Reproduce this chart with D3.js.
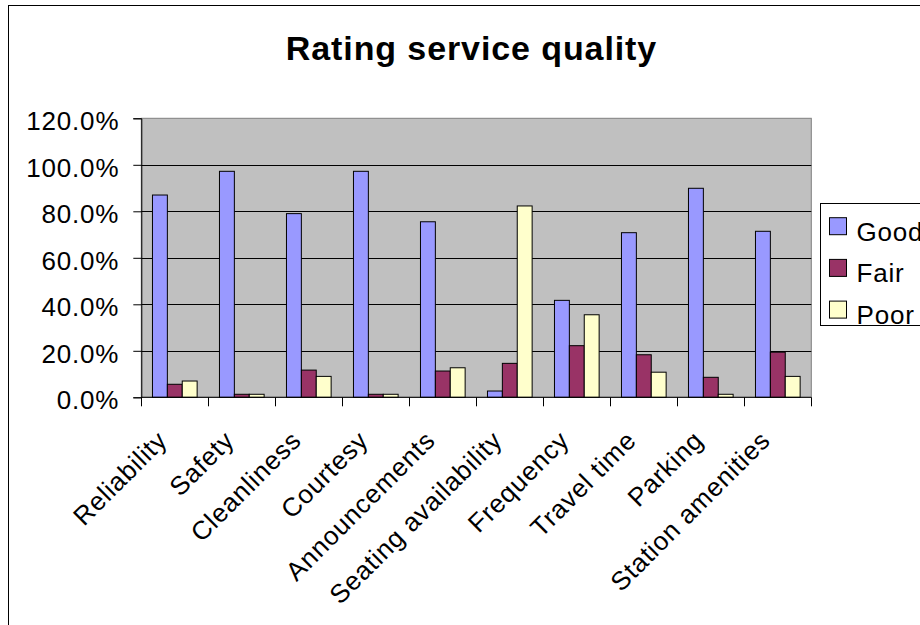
<!DOCTYPE html>
<html>
<head>
<meta charset="utf-8">
<script src="https://cdn.jsdelivr.net/npm/d3@7"></script>
<style>
  html, body { margin: 0; padding: 0; background: #fff; }
  svg { display: block; font-family: Arial, "Liberation Sans", sans-serif; }
</style>
</head>
<body>
<svg id="chart" width="920" height="625"></svg>
<script>
// Survey results: share of riders rating each service aspect
const categories = ["Reliability", "Safety", "Cleanliness", "Courtesy", "Announcements",
  "Seating availability", "Frequency", "Travel time", "Parking", "Station amenities"];
const seriesNames = ["Good", "Fair", "Poor"];
const good = [0.870, 0.972, 0.790, 0.972, 0.755, 0.027, 0.417, 0.708, 0.899, 0.714];
const fair = [0.056, 0.013, 0.117, 0.013, 0.113, 0.146, 0.222, 0.183, 0.086, 0.194];
const poor = [0.070, 0.013, 0.090, 0.013, 0.127, 0.823, 0.355, 0.108, 0.013, 0.090];
const yTicks = [0, 0.2, 0.4, 0.6, 0.8, 1.0, 1.2];
const colors = ["#9999FF", "#993366", "#FFFFCC"];
const titleText = "Rating service quality";

const seriesValues = [good, fair, poor];
const rows = categories.map((c, i) => ({
  category: c,
  values: seriesNames.map((s, k) => ({ series: s, value: seriesValues[k][i] }))
}));

const svg = d3.select("#chart");
const plot = { left: 141.3, right: 811.3, top: 118.3, bottom: 397.3 };

// Outer chart frame
svg.append("rect")
  .attr("x", 8.5).attr("y", 5.5)
  .attr("width", 940).attr("height", 640)
  .attr("fill", "#fff").attr("stroke", "#000").attr("stroke-width", 1);

// Title
svg.append("text")
  .attr("x", 471.5).attr("y", 59.5)
  .attr("text-anchor", "middle")
  .attr("font-size", 34).attr("font-weight", "bold")
  .attr("letter-spacing", 0.9)
  .text(titleText);

const x0 = d3.scaleBand()
  .domain(categories)
  .range([plot.left, plot.right])
  .paddingInner(1 / 3)
  .paddingOuter(1 / 6);
const x1 = d3.scaleBand()
  .domain(seriesNames)
  .range([0, x0.bandwidth()]);
const y = d3.scaleLinear().domain([0, 1.2]).range([plot.bottom, plot.top]);

// Plot area background
svg.append("rect")
  .attr("x", plot.left).attr("y", plot.top)
  .attr("width", plot.right - plot.left).attr("height", plot.bottom - plot.top)
  .attr("fill", "#C0C0C0").attr("stroke", "#808080").attr("stroke-width", 1);

// Horizontal gridlines
svg.append("g")
  .selectAll("line")
  .data(yTicks.filter(t => t > 0 && t < 1.2))
  .join("line")
  .attr("x1", plot.left).attr("x2", plot.right)
  .attr("y1", d => Math.round(y(d)) + 0.5).attr("y2", d => Math.round(y(d)) + 0.5)
  .attr("stroke", "#000").attr("stroke-width", 1);

// Bars
const groups = svg.append("g")
  .selectAll("g")
  .data(rows)
  .join("g")
  .attr("transform", d => `translate(${x0(d.category)},0)`);

groups.selectAll("rect")
  .data(d => d.values)
  .join("rect")
  .attr("x", d => x1(d.series))
  .attr("y", d => y(d.value))
  .attr("width", x1.bandwidth())
  .attr("height", d => y(0) - y(d.value))
  .attr("fill", (d, i) => colors[i])
  .attr("stroke", "#000").attr("stroke-width", 1);

// Y axis
const yAxis = d3.axisLeft(y)
  .tickValues(yTicks)
  .tickFormat(d3.format(".1%"))
  .tickSize(8)
  .tickPadding(14);
const yg = svg.append("g")
  .attr("transform", `translate(${plot.left},0)`)
  .call(yAxis);
yg.select(".domain").attr("stroke", "#000");
yg.selectAll(".tick line").attr("stroke", "#000");
yg.selectAll(".tick text")
  .attr("font-size", 26)
  .attr("letter-spacing", 0.8)
  .attr("fill", "#000")
  .attr("font-family", "Arial, 'Liberation Sans', sans-serif")
  .attr("dy", "0.44em");

// X axis with ticks at category boundaries
const xg = svg.append("g");
xg.append("line")
  .attr("x1", plot.left).attr("x2", plot.right)
  .attr("y1", plot.bottom).attr("y2", plot.bottom)
  .attr("stroke", "#000");
const step = x0.step();
xg.selectAll("line.tick")
  .data(d3.range(categories.length + 1))
  .join("line")
  .attr("class", "tick")
  .attr("x1", i => Math.round(plot.left + i * step) + 0.5)
  .attr("x2", i => Math.round(plot.left + i * step) + 0.5)
  .attr("y1", plot.bottom).attr("y2", plot.bottom + 9)
  .attr("stroke", "#000");

xg.selectAll("text")
  .data(categories)
  .join("text")
  .attr("transform", d => `translate(${x0(d) + x0.bandwidth() / 2 - 6},442) rotate(-45)`)
  .attr("text-anchor", "end")
  .attr("font-size", 26)
  .attr("letter-spacing", 0.8)
  .text(d => d);

// Legend
const legend = svg.append("g");
legend.append("rect")
  .attr("x", 820.5).attr("y", 203.5)
  .attr("width", 140).attr("height", 122)
  .attr("fill", "#fff").attr("stroke", "#000");
const items = legend.selectAll("g")
  .data(seriesNames)
  .join("g")
  .attr("transform", (d, i) => `translate(829.5,${226.7 + i * 41.7})`);
items.append("rect")
  .attr("x", 0).attr("y", -9)
  .attr("width", 17).attr("height", 17)
  .attr("fill", (d, i) => colors[i])
  .attr("stroke", "#000");
items.append("text")
  .attr("x", 27).attr("y", 14)
  .attr("font-size", 26)
  .attr("letter-spacing", 0.8)
  .text(d => d);
</script>
</body>
</html>
